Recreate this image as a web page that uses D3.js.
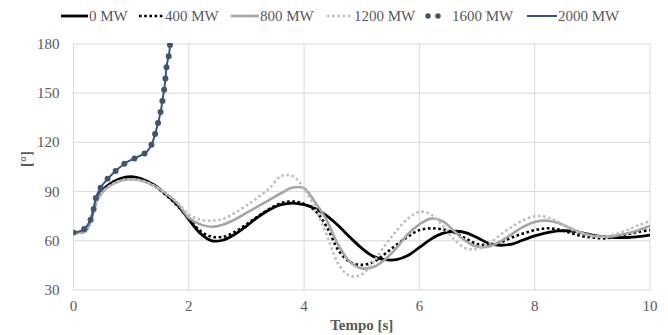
<!DOCTYPE html>
<html>
<head>
<meta charset="utf-8">
<script src="https://cdn.jsdelivr.net/npm/d3@7"></script>
</head>
<body style="margin:0">
<div id="chart"></div>
<script>
// Angolo rotorico vs tempo per diversi livelli di potenza

const seriesNames = ['0 MW', '400 MW', '800 MW', '1200 MW', '1600 MW', '2000 MW'];

const time = [0, 0.1, 0.2, 0.3, 0.4, 0.5, 0.6, 0.8, 1.0, 1.2, 1.4, 1.6, 1.8, 2.0,
  2.2, 2.4, 2.6, 2.8, 3.0, 3.2, 3.4, 3.6, 3.8, 4.0, 4.2, 4.4, 4.6, 4.8, 5.0,
  5.2, 5.4, 5.6, 5.8, 6.0, 6.2, 6.4, 6.6, 6.8, 7.0, 7.2, 7.4, 7.6, 7.8, 8.0,
  8.2, 8.4, 8.6, 8.8, 9.0, 9.2, 9.4, 9.6, 9.8, 10.0];

const mw0 = [65, 65, 66, 73, 84.5, 90.5, 94, 97.8, 99.1, 97.5, 94, 88.5, 82, 73,
  64.5, 60, 60.5, 64, 69, 74.5, 79, 82, 83, 82, 79.5, 75, 69, 62, 55.5,
  50.5, 48.5, 48.5, 51, 56, 61, 64.5, 65.8, 65, 62, 58.5, 57.3, 58, 60.5, 63,
  64.8, 66, 66, 65, 63.5, 62.5, 62, 62, 62.5, 63.5];

const mw400 = [65, 65, 66, 73, 84.5, 90.3, 93.7, 97.3, 98.6, 97, 93.5, 88, 81.5, 73.5,
  66, 62.5, 62.5, 65.5, 70, 75, 79.5, 83, 84, 82.5, 78, 68, 54, 47, 45.3,
  47, 52, 57.5, 62.5, 66.5, 67.6, 67, 65, 61.5, 58, 57.5, 59, 62, 64.5, 66.5,
  67.6, 67, 65, 63, 62, 61.5, 62.5, 64, 65.5, 66.5];

const mw800 = [65, 65, 66, 73, 84, 89.5, 92.8, 96.5, 97.5, 96.5, 93.5, 89, 83, 74,
  70, 68.6, 70, 73, 77, 81, 85, 89, 92.5, 92, 83, 72, 57, 47, 43.2,
  44, 48.5, 55.5, 64, 70, 73.5, 72, 66, 60, 56.5, 56.5, 59.5, 64, 68.5, 71.5,
  72.3, 71, 68, 65, 63, 62.5, 63, 64.5, 66.5, 69];

const mw1200 = [65, 65, 66, 73, 84, 89.5, 92.8, 96.5, 97.5, 96.5, 93.5, 89, 83.5, 76,
  72.8, 72.3, 73.5, 77, 81.5, 86.5, 92, 99.5, 99.5, 92, 79, 63, 45.5, 38.5, 39.5,
  47, 57, 66, 73.5, 77.7, 76, 69.5, 61, 55.5, 55, 58, 63.5, 68.5, 72.5, 75,
  74.5, 71.5, 67.5, 64.5, 62.8, 62.5, 64, 66.5, 69.5, 72];

// 1600 MW e 2000 MW: perdita di passo, campionamento non uniforme
const timeUnstable = [0, 0.18, 0.3, 0.35, 0.385, 0.47, 0.6, 0.75, 0.91, 1.1, 1.27,
  1.37, 1.43, 1.48, 1.52, 1.55, 1.58, 1.6, 1.62, 1.66, 1.675, 1.69];
const mw1600 = [65, 67, 73, 79.4, 85.9, 92.4, 98.1, 103.2, 107.6, 110.9, 114.3,
  120, 127, 133.7, 140.2, 147.3, 154, 160.9, 167.6, 174.3, 180, 186];
const mw2000 = mw1600.slice();

const xTicks = [0, 2, 4, 6, 8, 10];
const yTicks = [30, 60, 90, 120, 150, 180];

const W = 668, H = 335;
const margin = { left: 73.5, right: 18, top: 44, bottom: 45 };
const textColor = '#595959';

const svg = d3.select('#chart').append('svg')
  .attr('width', W).attr('height', H)
  .attr('font-family', 'Liberation Serif')
  .attr('font-size', 15);

const x = d3.scaleLinear().domain([0, 10]).range([margin.left, W - margin.right]);
const y = d3.scaleLinear().domain([30, 180]).range([H - margin.bottom, margin.top]);

// helper per le scritte: tutte in Liberation Serif
function label(sel) {
  return sel.attr('font-family', 'Liberation Serif')
    .style('font-family', "'Liberation Serif'")
    .style('font-size', '15px')
    .attr('fill', textColor);
}

// Griglia
svg.append('g')
  .selectAll('line')
  .data(yTicks)
  .join('line')
  .attr('x1', x(0)).attr('x2', x(10))
  .attr('y1', d => y(d)).attr('y2', d => y(d))
  .attr('stroke', '#d9d9d9').attr('stroke-width', 1);

svg.append('g')
  .selectAll('line')
  .data(xTicks)
  .join('line')
  .attr('x1', d => x(d)).attr('x2', d => x(d))
  .attr('y1', y(30)).attr('y2', y(180))
  .attr('stroke', '#d9d9d9').attr('stroke-width', 1);

// Etichette degli assi, dalle scale
svg.append('g')
  .selectAll('text')
  .data(xTicks)
  .join('text')
  .attr('x', d => x(d))
  .attr('y', y(30) + 21)
  .attr('text-anchor', 'middle')
  .call(label)
  .text(d => d);

svg.append('g')
  .selectAll('text')
  .data(yTicks)
  .join('text')
  .attr('x', x(0) - 14)
  .attr('y', d => y(d) + 5)
  .attr('text-anchor', 'end')
  .call(label)
  .text(d => d);

svg.append('text')
  .attr('x', (x(0) + x(10)) / 2)
  .attr('y', 330)
  .attr('text-anchor', 'middle')
  .call(label)
  .attr('font-weight', 'bold')
  .text('Tempo [s]');

svg.append('text')
  .attr('transform', 'translate(31,159) rotate(-90)')
  .attr('text-anchor', 'middle')
  .call(label)
  .attr('font-weight', 'bold')
  .text('[°]');

// Clip sull'area del grafico
svg.append('clipPath').attr('id', 'plot-clip')
  .append('rect')
  .attr('x', x(0)).attr('y', y(180) - 1)
  .attr('width', x(10) - x(0)).attr('height', y(30) - y(180) + 1);

const styles = [
  { color: '#000000', width: 2.8, dash: null, cap: 'round' },
  { color: '#000000', width: 2.6, dash: '2.6 2.6', cap: 'butt' },
  { color: '#a5a5a5', width: 2.6, dash: null, cap: 'round' },
  { color: '#bfbfbf', width: 2.6, dash: '2.6 2.6', cap: 'butt' },
  { color: '#44546a', width: 6, dash: '0 11.3', cap: 'round' },
  { color: '#2f5597', width: 2, dash: null, cap: 'round' }
];

const seriesData = [
  time.map((t, i) => [t, mw0[i]]),
  time.map((t, i) => [t, mw400[i]]),
  time.map((t, i) => [t, mw800[i]]),
  time.map((t, i) => [t, mw1200[i]]),
  timeUnstable.map((t, i) => [t, mw1600[i]]),
  timeUnstable.map((t, i) => [t, mw2000[i]])
];

const line = d3.line()
  .x(d => x(d[0]))
  .y(d => y(d[1]))
  .curve(d3.curveCatmullRom.alpha(0.5));

// ordine di disegno: 2000 sotto i punti del 1600
const drawOrder = [0, 1, 2, 3, 5, 4];
const plot = svg.append('g').attr('clip-path', 'url(#plot-clip)');
plot.selectAll('path')
  .data(drawOrder)
  .join('path')
  .attr('d', i => line(seriesData[i]))
  .attr('fill', 'none')
  .attr('stroke', i => styles[i].color)
  .attr('stroke-width', i => styles[i].width)
  .attr('stroke-dasharray', i => styles[i].dash)
  .attr('stroke-linecap', i => styles[i].cap)
  .attr('stroke-linejoin', 'round');

// Legenda
const legendX = [61, 139, 231, 327, 425, 527];
const legendLen = [27, 25, 28, 26, 24, 30];
const legendY = 16;
const legend = svg.append('g');
seriesNames.forEach((name, i) => {
  const s = styles[i];
  const x0 = legendX[i];
  if (i === 4) {
    legend.append('line')
      .attr('x1', x0 + 3).attr('x2', x0 + 23)
      .attr('y1', legendY).attr('y2', legendY)
      .attr('stroke', s.color).attr('stroke-width', 5.5)
      .attr('stroke-linecap', 'round')
      .attr('stroke-dasharray', '0 10');
  } else {
    legend.append('line')
      .attr('x1', x0).attr('x2', x0 + legendLen[i])
      .attr('y1', legendY).attr('y2', legendY)
      .attr('stroke', s.color).attr('stroke-width', s.width)
      .attr('stroke-dasharray', s.dash)
      .attr('stroke-linecap', 'butt');
  }
  legend.append('text')
    .attr('x', x0 + legendLen[i] + (i === 4 ? 3 : 1))
    .attr('y', legendY + 5)
    .call(label)
    .text(name);
});
</script>
</body>
</html>
